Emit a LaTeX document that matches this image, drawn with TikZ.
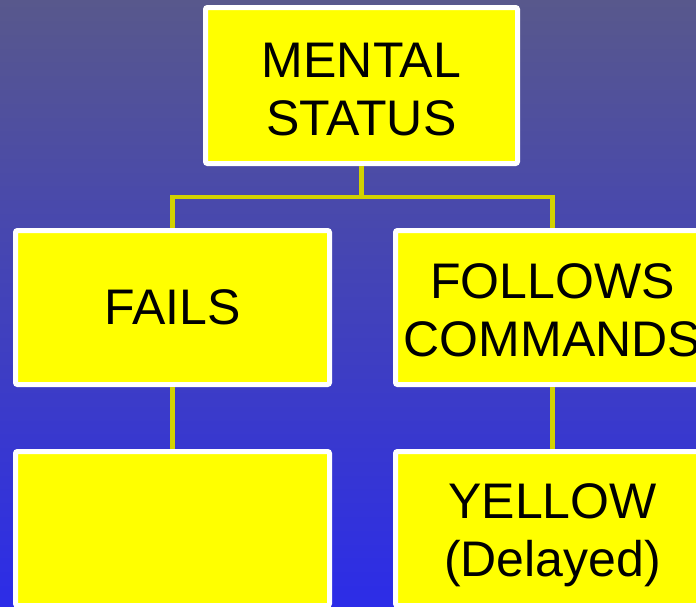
\documentclass[tikz,border=0pt]{standalone}
\usepackage{fontspec}
\setmainfont{Liberation Sans}
\definecolor{bgtop}{RGB}{88,88,140}
\definecolor{bgbot}{RGB}{44,44,232}
\definecolor{boxfill}{RGB}{255,255,0}
\definecolor{linkcol}{RGB}{210,210,0}
\tikzset{
  chartbox/.style={draw=white, line width=5pt, fill=boxfill, rounded corners=2pt,
    minimum width=314pt, minimum height=154pt, inner sep=0pt, align=center,
    font=\fontsize{50}{58}\selectfont, text=black},
  link/.style={draw=linkcol, line width=4.5pt}
}
\begin{document}
\begin{tikzpicture}[x=1pt,y=-1pt]
\path[use as bounding box] (0,0) rectangle (696,606);
\clip (0,0) rectangle (696,606);
\shade[top color=bgtop, bottom color=bgbot] (0,0) rectangle (696,606);
\coordinate (junc) at (361.5,197);
\coordinate (jl) at (172.5,197);
\coordinate (jr) at (552.5,197);
\node[chartbox, minimum width=312pt, minimum height=156pt] (top) at (361.5,85.5) {\rule{0pt}{42pt}MENTAL\\STATUS};
\node[chartbox] (fails) at (172.5,307.5) {FAILS};
\node[chartbox] (follows) at (552.5,307.5) {\rule{0pt}{40pt}FOLLOWS\\COMMANDS};
\node[chartbox] (blank) at (172.5,528.5) {};
\node[chartbox] (yellow) at (552.5,528.5) {\rule{0pt}{49pt}YELLOW\\(Delayed)};
\draw[link] (top.south) -- (junc);
\draw[link, line cap=rect] (jl) -- (jr);
\draw[link] (jl) -- (fails.north);
\draw[link] (jr) -- (follows.north);
\draw[link] (fails.south) -- (blank.north);
\draw[link] (follows.south) -- (yellow.north);
\end{tikzpicture}
\end{document}
